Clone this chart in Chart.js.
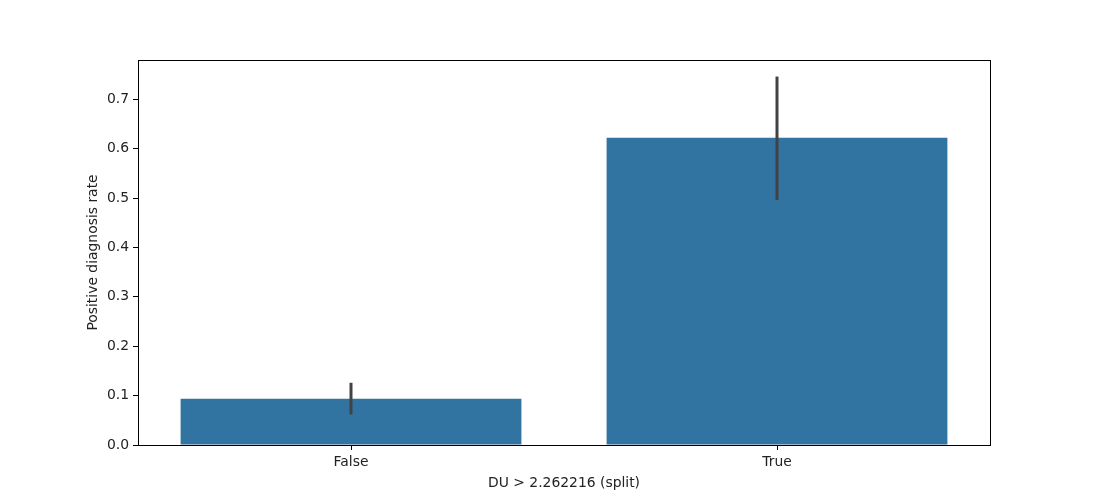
<!DOCTYPE html>
<html><head><meta charset="utf-8">
<script src="https://cdn.jsdelivr.net/npm/chart.js@4/dist/chart.umd.min.js"></script>
<style>html,body{margin:0;padding:0;background:#fff;}canvas{display:block;}</style>
</head><body>
<canvas id="c" width="1100" height="500"></canvas>
<script>
const categories = ["False", "True"];
const rates = [0.0937, 0.622];
const ciLow = [0.062, 0.496];
const ciHigh = [0.126, 0.746];
const yTickLabels = ["0.0","0.1","0.2","0.3","0.4","0.5","0.6","0.7"];
const xTitle = "DU > 2.262216 (split)";
const yTitle = "Positive diagnosis rate";

const FONT = {family: "'DejaVu Sans'", size: 13.9};

const errPlugin = {
  id: 'errbars',
  afterDatasetsDraw(chart) {
    const ctx = chart.ctx;
    const xs = chart.scales.x, ys = chart.scales.y;
    ctx.save();
    ctx.strokeStyle = '#424242';
    ctx.lineWidth = 3;
    ctx.lineCap = 'butt';
    categories.forEach((c, i) => {
      const x = xs.getPixelForValue(i);
      ctx.beginPath();
      ctx.moveTo(x, ys.getPixelForValue(ciLow[i]));
      ctx.lineTo(x, ys.getPixelForValue(ciHigh[i]));
      ctx.stroke();
    });
    ctx.restore();
  },
  afterDraw(chart) {
    const a = chart.chartArea, ctx = chart.ctx;
    ctx.save();
    ctx.strokeStyle = '#000';
    ctx.lineWidth = 1;
    ctx.strokeRect(Math.round(a.left) + 0.5, Math.round(a.top) + 0.5, Math.round(a.right - a.left), Math.round(a.bottom - a.top));
    ctx.restore();
  }
};

new Chart(document.getElementById('c'), {
  type: 'bar',
  data: {
    labels: categories,
    datasets: [{
      data: rates,
      backgroundColor: '#3274a1',
      borderWidth: 0,
      barPercentage: 0.8,
      categoryPercentage: 1.0
    }]
  },
  options: {
    responsive: false,
    animation: false,
    devicePixelRatio: 1,
    layout: {padding: {left: 85, right: 110, top: 60, bottom: 0}},
    plugins: {legend: {display: false}, tooltip: {enabled: false}},
    scales: {
      x: {
        offset: true,
        grid: {display: true, drawOnChartArea: false, tickLength: 5, tickColor: '#000', offset: false},
        border: {display: true, color: '#000', width: 1},
        ticks: {color: '#222', font: FONT, padding: 4},
        title: {display: true, text: xTitle, color: '#222', font: FONT, padding: {top: 8.5, bottom: 8.5}},
        afterFit(s) { s.height = 55; }
      },
      y: {
        min: 0,
        max: 0.7795,
        grid: {display: true, drawOnChartArea: false, tickLength: 5, tickColor: '#000'},
        border: {display: true, color: '#000', width: 1},
        ticks: {
          stepSize: 0.1,
          includeBounds: false,
          color: '#222',
          font: FONT,
          padding: 4,
          callback: (v) => { const i = Math.round(v * 10); return (Math.abs(v*10 - i) < 1e-6 && yTickLabels[i]) ? yTickLabels[i] : null; }
        },
        title: {display: true, text: yTitle, color: '#222', font: FONT, padding: {top: 0, bottom: 0}},
        afterFit(s) { s.width = 53; }
      }
    }
  },
  plugins: [errPlugin]
});
</script>
</body></html>
